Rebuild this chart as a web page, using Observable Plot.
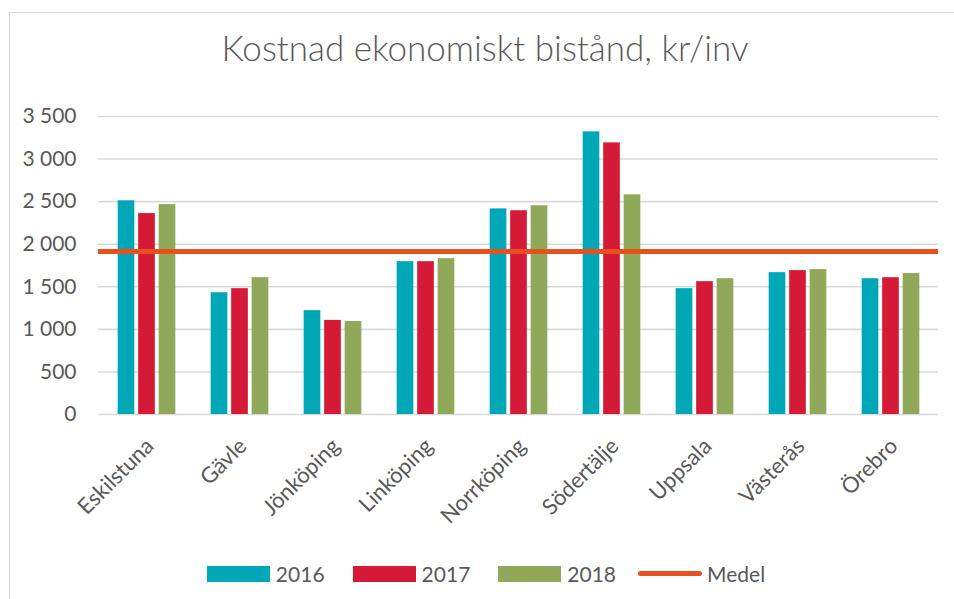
<!DOCTYPE html>
<html>
<head>
<meta charset="utf-8">
<script src="https://cdn.jsdelivr.net/npm/d3@7"></script>
<script src="https://cdn.jsdelivr.net/npm/@observablehq/plot@0.6"></script>
<style>
  body { margin: 0; background: #fff; font-family: Lato, "Open Sans", sans-serif; }
  #wrap { position: relative; width: 954px; height: 599px; overflow: hidden; }
  #frame { position: absolute; left: 9px; top: 12px; width: 980px; height: 620px; border: 1px solid #d9d9d9; box-sizing: border-box; }
  #title { position: absolute; left: 0; width: 970px; top: 25px; text-align: center; font-size: 35px; font-weight: 300; color: #595959; line-height: 44px; white-space: nowrap; }
  #plot { position: absolute; left: 0; top: 80px; }
  #legend { position: absolute; left: 0; width: 972px; top: 561px; display: flex; justify-content: center; align-items: center; font-size: 21px; color: #595959; }
  .item { display: flex; align-items: center; margin: 0 14px; }
  .sw { width: 63px; height: 16px; margin-right: 6px; }
  .ln { width: 64px; height: 5px; border-radius: 3px; margin-right: 5px; margin-left: -6px; }
</style>
</head>
<body>
<div id="wrap">
  <div id="frame"></div>
  <div id="title">Kostnad ekonomiskt bistånd, kr/inv</div>
  <div id="plot"></div>
  <div id="legend"></div>
</div>
<script>
const cities = ["Eskilstuna","Gävle","Jönköping","Linköping","Norrköping","Södertälje","Uppsala","Västerås","Örebro"];
const years = ["2016","2017","2018"];
const v2016 = [2510, 1430, 1220, 1795, 2415, 3320, 1478, 1666, 1595];
const v2017 = [2360, 1478, 1105, 1795, 2393, 3190, 1560, 1690, 1607];
const v2018 = [2465, 1607, 1092, 1830, 2452, 2580, 1595, 1702, 1655];
const medel = 1915;
const yTicks = [0, 500, 1000, 1500, 2000, 2500, 3000, 3500];
const colors = ["#00a8b7", "#d51a38", "#8fa85a"];
const medelColor = "#e8501c";

const series = [v2016, v2017, v2018];
const fmt = d => d3.format(",")(d).replace(/,/g, " ");

const band = (954 - 98 - 16) / cities.length;
const bw = 17, gap = 3.5;
const left0 = (band - (3 * bw + 2 * gap)) / 2;

const barMarks = series.map((vals, i) => {
  const il = left0 + i * (bw + gap);
  const ir = band - il - bw;
  return Plot.barY(cities.map((c, j) => ({city: c, value: vals[j]})), {
    x: "city", y: "value", fill: colors[i], insetLeft: il, insetRight: ir
  });
});

const chart = Plot.plot({
  width: 954,
  height: 470,
  marginLeft: 98,
  marginRight: 16,
  marginTop: 36,
  marginBottom: 136,
  style: { fontFamily: "Lato, 'Open Sans', sans-serif", fontSize: "21px", color: "#595959", background: "transparent" },
  x: { domain: cities, padding: 0, label: null },
  y: { domain: [0, 3500], label: null },
  marks: [
    Plot.ruleY(yTicks, { stroke: "#d9d9d9", strokeWidth: 1.6 }),
    ...barMarks,
    Plot.ruleY([medel], { stroke: medelColor, strokeWidth: 5 }),
    Plot.axisY({ ticks: yTicks, tickFormat: fmt, tickSize: 0, tickPadding: 22, fill: "#595959", fontSize: 21 }),
    Plot.axisX({ tickSize: 0, tickRotate: -45, tickPadding: 28, fill: "#595959", fontSize: 22, dx: 3 })
  ]
});
document.getElementById("plot").appendChild(chart);

const legend = document.getElementById("legend");
years.forEach((y, i) => {
  const it = document.createElement("div");
  it.className = "item";
  it.innerHTML = `<span class="sw" style="background:${colors[i]}"></span><span>${y}</span>`;
  legend.appendChild(it);
});
const it = document.createElement("div");
it.className = "item";
it.innerHTML = `<span class="ln" style="background:${medelColor}"></span><span>Medel</span>`;
legend.appendChild(it);
</script>
</body>
</html>
